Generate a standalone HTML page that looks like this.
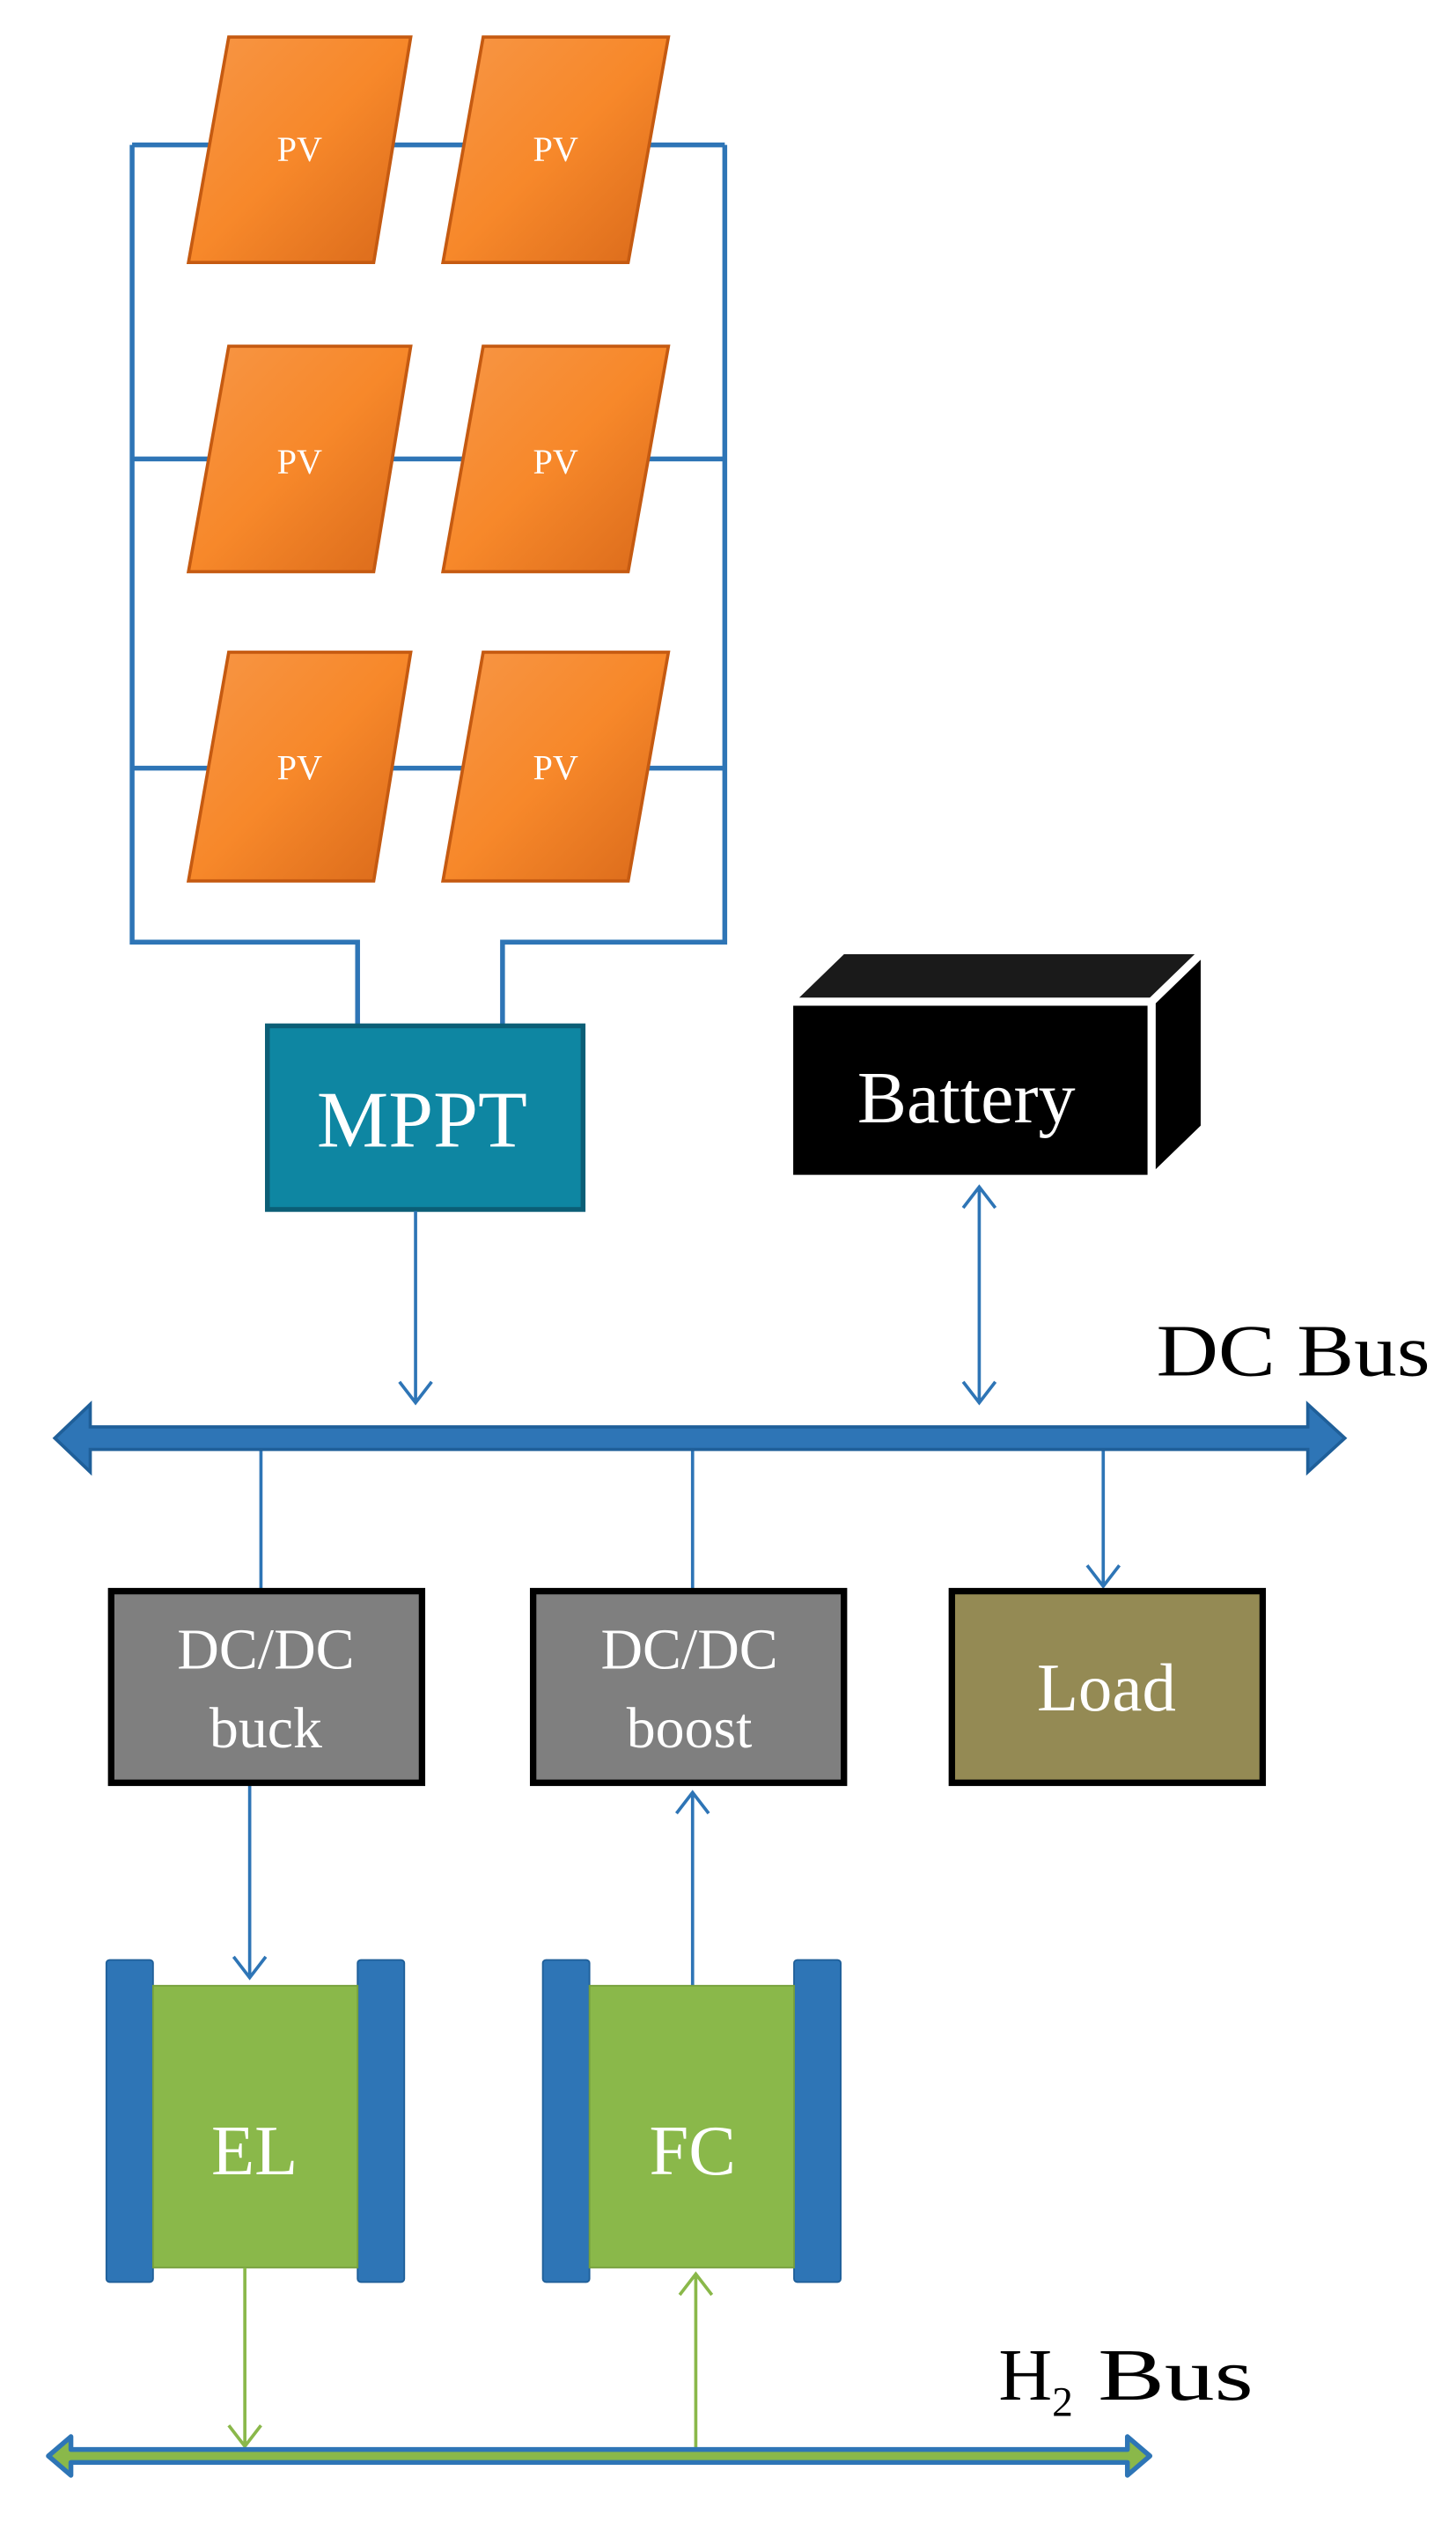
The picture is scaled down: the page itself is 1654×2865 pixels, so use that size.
<!DOCTYPE html>
<html><head><meta charset="utf-8"><style>
html,body{margin:0;padding:0;background:#fff}
svg{display:block}
text{font-family:"Liberation Serif",serif}
</style></head><body>
<svg width="1654" height="2865" viewBox="0 0 904 1566" xmlns="http://www.w3.org/2000/svg">
<defs>
<linearGradient id="pv" x1="0" y1="0" x2="1" y2="1">
<stop offset="0" stop-color="#f79646"/><stop offset="0.5" stop-color="#f7882a"/><stop offset="1" stop-color="#d9691a"/>
</linearGradient>
</defs>
<g fill="none" stroke="#2e75b6" stroke-width="3">
<path d="M82 90 H450 M82 285 H450 M82 477 H450"/>
<path d="M82 90 V585 H222 V636 M450 90 V585 H312 V636"/>
</g>
<g stroke="#c55a11" stroke-width="2" fill="url(#pv)">
<polygon points="142,23 255,23 232,163 117,163"/>
<polygon points="300,23 415,23 390,163 275,163"/>
<polygon points="142,215 255,215 232,355 117,355"/>
<polygon points="300,215 415,215 390,355 275,355"/>
<polygon points="142,405 255,405 232,547 117,547"/>
<polygon points="300,405 415,405 390,547 275,547"/>
</g>
<g fill="#fff" font-size="22" text-anchor="middle">
<text x="186" y="100">PV</text><text x="345" y="100">PV</text>
<text x="186" y="294">PV</text><text x="345" y="294">PV</text>
<text x="186" y="484">PV</text><text x="345" y="484">PV</text>
</g>
<rect x="166" y="637" width="196" height="114" fill="#0e86a2" stroke="#0b5e76" stroke-width="3"/>
<text x="262" y="712" fill="#fff" font-size="50" text-anchor="middle">MPPT</text>
<g stroke="#fff" stroke-width="5" stroke-linejoin="round">
<polygon points="490,622 523,590 748,590 715,622" fill="#1a1a1a"/>
<polygon points="715,622 748,590 748,700 715,732" fill="#000"/>
<rect x="490" y="622" width="225" height="110" fill="#000"/>
</g>
<text x="600" y="697" fill="#fff" font-size="46" text-anchor="middle">Battery</text>
<g fill="none" stroke="#2e75b6" stroke-width="2">
<path d="M258 752 V871 M248 858 L258 871 L268 858"/>
<path d="M608 737 V871 M598 858 L608 871 L618 858 M598 750 L608 737 L618 750"/>
<path d="M162 900 V987 M430 900 V987 M685 900 V985 M675 972 L685 985 L695 972"/>
<path d="M155 1108 V1228 M145 1215 L155 1228 L165 1215"/>
<path d="M430 1233 V1113 M420 1126 L430 1113 L440 1126"/>
</g>
<polygon points="34,893 56,872 56,886 812,886 812,872 835,893 812,914 812,900 56,900 56,914" fill="#2e75b6" stroke="#1f5f99" stroke-width="2"/>
<text x="718" y="854" fill="#000" font-size="46" textLength="170" lengthAdjust="spacingAndGlyphs">DC Bus</text>
<rect x="69" y="988" width="193" height="119" fill="#7f7f7f" stroke="#000" stroke-width="4"/>
<rect x="331" y="988" width="193" height="119" fill="#7f7f7f" stroke="#000" stroke-width="4"/>
<rect x="591" y="988" width="193" height="119" fill="#948a54" stroke="#000" stroke-width="4"/>
<g fill="#fff" text-anchor="middle" font-size="36">
<text x="165" y="1036">DC/DC</text><text x="165" y="1085">buck</text>
<text x="428" y="1036">DC/DC</text><text x="428" y="1085">boost</text>
<text x="687" y="1062" font-size="42">Load</text>
</g>
<g fill="#2e75b6" stroke="#1f5f99" stroke-width="1">
<rect x="66" y="1217" width="29" height="200" rx="2"/><rect x="222" y="1217" width="29" height="200" rx="2"/>
<rect x="337" y="1217" width="29" height="200" rx="2"/><rect x="493" y="1217" width="29" height="200" rx="2"/>
</g>
<rect x="95" y="1233" width="127" height="175" fill="#8ab84a" stroke="#76a03c" stroke-width="1"/>
<rect x="366" y="1233" width="127" height="175" fill="#8ab84a" stroke="#76a03c" stroke-width="1"/>
<text x="158" y="1350" fill="#fff" font-size="44" text-anchor="middle">EL</text>
<text x="430" y="1350" fill="#fff" font-size="44" text-anchor="middle">FC</text>
<g fill="none" stroke="#8ab84a" stroke-width="2">
<path d="M152 1408 V1519 M142 1506 L152 1519 L162 1506"/>
<path d="M432 1522 V1412 M422 1425 L432 1412 L442 1425"/>
</g>
<polygon points="30,1525 44,1513 44,1521 700,1521 700,1513 714,1525 700,1537 700,1529 44,1529 44,1537" fill="#8ab84a" stroke="#2e75b6" stroke-width="3" stroke-linejoin="round"/>
<text x="620" y="1490" fill="#000" font-size="46">H<tspan font-size="26" dy="10">2</tspan><tspan dy="-10" textLength="112" lengthAdjust="spacingAndGlyphs"> Bus</tspan></text>
</svg>
</body></html>
